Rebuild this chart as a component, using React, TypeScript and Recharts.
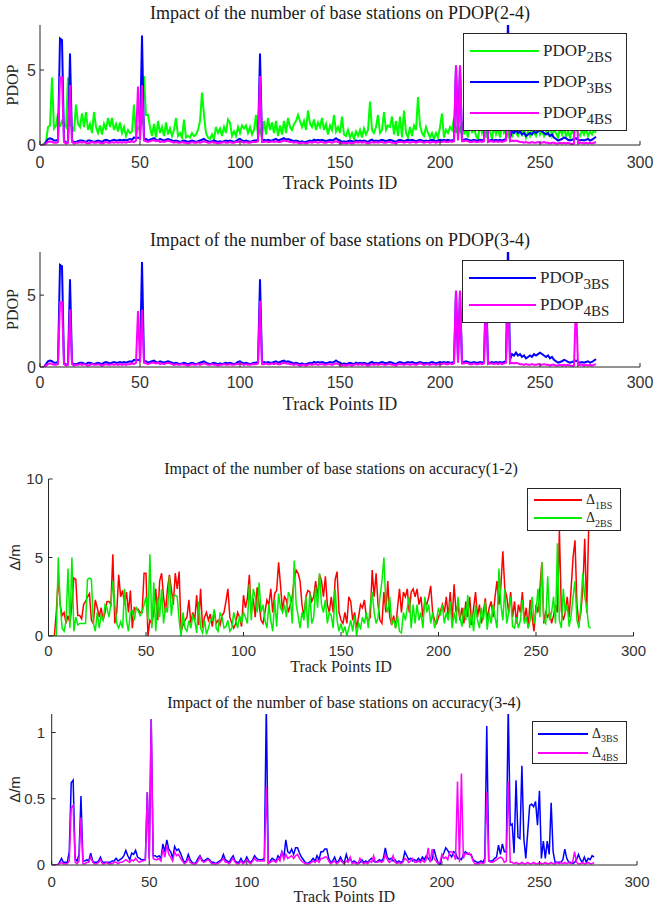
import React from "react"
import { LineChart, Line, XAxis, YAxis, Legend } from "recharts"

// track point IDs 1..278 (x categories)
const trackIds = Array.from({ length: 278 }, (_, i) => i + 1)
const xTicks = [0, 50, 100, 150, 200, 250, 300]
const pdopTicks = [0, 5]
const acc12Ticks = [0, 5, 10]
const acc34Ticks = [0, 0.5, 1]

// PDOP with 2 base stations (green)
const pdop2BS = [
  0, 0.1, 0.2, 1.2, 1.3, 4.5, 1.1, 1.3, 2.1, 1.2,
  1.6, 1.4, 1.2, 4.5, 1.3, 1.2, 0.9, 2.7, 1.4, 1.2,
  2.1, 1.2, 2.2, 1.0, 1.4, 0.8, 2.2, 1.2, 0.8, 1.3,
  0.7, 1.4, 1.0, 1.8, 1.2, 1.8, 1.0, 1.4, 0.9, 1.5,
  0.8, 1.2, 0.6, 1.0, 0.8, 0.9, 2.7, 0.6, 1.2, 1.0,
  1.5, 4.6, 2.0, 2.0, 1.2, 0.6, 1.4, 0.5, 1.6, 0.8,
  1.2, 0.6, 1.5, 0.7, 1.1, 0.6, 1.0, 1.8, 0.6, 0.8,
  0.5, 1.7, 0.5, 0.6, 0.5, 0.8, 0.6, 0.7, 1.0, 1.6,
  3.5, 2.0, 0.8, 0.5, 0.4, 0.7, 0.4, 1.2, 0.8, 1.1,
  0.6, 1.2, 0.8, 1.7, 1.5, 0.6, 0.9, 0.6, 1.2, 0.8,
  1.3, 1.1, 1.3, 0.8, 1.2, 0.7, 1.0, 2.0, 0.6, 1.0,
  0.5, 1.6, 0.7, 1.8, 1.0, 1.5, 0.8, 1.6, 0.6, 1.3,
  0.7, 1.6, 0.8, 1.8, 1.2, 1.0, 1.4, 1.6, 2.0, 1.6,
  1.2, 1.6, 1.0, 2.3, 1.4, 1.2, 1.7, 1.0, 1.5, 1.2,
  1.8, 1.0, 1.4, 0.7, 1.3, 1.0, 2.0, 0.9, 1.2, 0.8,
  1.9, 0.7, 0.6, 1.0, 0.5, 0.8, 0.4, 0.9, 0.6, 1.0,
  0.5, 1.1, 0.7, 1.0, 2.9, 1.0, 0.8, 1.2, 2.0, 0.8,
  1.0, 2.2, 1.0, 1.3, 1.2, 1.9, 0.7, 1.6, 0.6, 1.9,
  0.5, 2.3, 0.8, 0.5, 1.2, 0.6, 1.3, 1.0, 3.2, 1.3,
  0.8, 0.6, 1.2, 0.8, 0.5, 0.8, 0.4, 0.8, 0.5, 1.2,
  2.1, 0.5, 1.0, 0.8, 1.2, 1.0, 1.8, 0.8, 1.3, 0.9,
  1.5, 0.7, 1.1, 0.5, 1.6, 0.8, 1.2, 0.6, 0.4, 1.4,
  0.8, 1.2, 0.5, 1.5, 0.9, 0.4, 1.3, 0.7, 1.1, 0.5,
  1.4, 0.8, 1.0, 0.6, 1.2, 0.5, 1.3, 0.8, 0.6, 1.0,
  0.7, 1.2, 0.5, 0.9, 0.6, 1.1, 0.8, 0.6, 1.2, 0.7,
  1.0, 0.6, 0.9, 0.7, 1.3, 0.6, 1.0, 0.8, 0.5, 1.1,
  0.7, 1.2, 0.6, 0.9, 0.5, 1.0, 0.7, 1.3, 0.8, 0.6,
  1.0, 0.7, 1.1, 0.6, 0.9, 0.7, 1.0, 0.8,
]

// PDOP with 3 base stations (blue)
const pdop3BS = [
  0, 0, 0.2, 0.4, 0.45, 0.4, 0.3, 0.3, 0.35, 7.1,
  7.0, 0.3, 0.15, 0.2, 6.1, 0.3, 0.2, 0.2, 0.25, 0.3,
  0.3, 0.25, 0.2, 0.3, 0.3, 0.25, 0.2, 0.25, 0.3, 0.25,
  0.2, 0.3, 0.35, 0.3, 0.25, 0.3, 0.35, 0.3, 0.3, 0.35,
  0.3, 0.35, 0.3, 0.35, 0.4, 0.35, 0.5, 0.45, 0.5, 0.45,
  7.3, 0.4, 0.4, 0.3, 0.35, 0.4, 0.45, 0.35, 0.3, 0.4,
  0.35, 0.3, 0.35, 0.4, 0.35, 0.3, 0.25, 0.3, 0.25, 0.2,
  0.25, 0.3, 0.25, 0.2, 0.25, 0.3, 0.25, 0.2, 0.25, 0.3,
  0.35, 0.4, 0.3, 0.25, 0.2, 0.25, 0.3, 0.25, 0.2, 0.25,
  0.2, 0.25, 0.3, 0.25, 0.3, 0.25, 0.2, 0.25, 0.35, 0.4,
  0.3, 0.25, 0.3, 0.25, 0.2, 0.25, 0.3, 0.3, 0.35, 6.1,
  0.3, 0.35, 0.3, 0.35, 0.3, 0.3, 0.35, 0.4, 0.3, 0.35,
  0.4, 0.45, 0.35, 0.4, 0.35, 0.3, 0.25, 0.3, 0.25, 0.2,
  0.25, 0.2, 0.2, 0.25, 0.3, 0.25, 0.35, 0.3, 0.35, 0.3,
  0.35, 0.3, 0.25, 0.3, 0.35, 0.3, 0.35, 0.45, 0.35, 0.3,
  0.2, 0.25, 0.2, 0.25, 0.3, 0.25, 0.2, 0.3, 0.25, 0.3,
  0.25, 0.3, 0.25, 0.2, 0.3, 0.35, 0.25, 0.3, 0.25, 0.3,
  0.35, 0.3, 0.25, 0.3, 0.35, 0.3, 0.25, 0.2, 0.3, 0.35,
  0.3, 0.25, 0.3, 0.35, 0.3, 0.35, 0.3, 0.25, 0.3, 0.35,
  0.3, 0.25, 0.3, 0.25, 0.3, 0.35, 0.3, 0.25, 0.3, 0.35,
  0.3, 0.35, 0.3, 0.35, 0.3, 0.3, 0.35, 5.3, 0.4, 5.3,
  0.3, 0.35, 0.4, 0.35, 0.3, 0.3, 0.35, 0.3, 0.3, 0.35,
  0.3, 0.35, 6.0, 0.3, 0.3, 0.35, 0.3, 0.35, 0.3, 0.35,
  0.3, 0.35, 0.4, 8.6, 0.5, 0.9, 0.8, 1.0, 0.8, 0.9,
  0.7, 0.8, 0.6, 0.7, 0.8, 0.7, 0.9, 0.8, 0.9, 1.0,
  0.9, 0.8, 0.7, 0.8, 0.6, 0.7, 0.5, 0.4, 0.3, 0.35,
  0.4, 0.5, 0.45, 0.35, 0.3, 0.35, 0.4, 0.45, 0.35, 0.3,
  0.35, 0.3, 0.35, 0.4, 0.3, 0.35, 0.45, 0.55,
]

// PDOP with 4 base stations (magenta)
const pdop4BS = [
  0, 0, 0.1, 0.2, 0.25, 0.2, 0.15, 0.15, 0.2, 4.5,
  4.5, 0.2, 0.1, 0.15, 4.0, 0.2, 0.1, 0.15, 0.15, 0.2,
  0.15, 0.2, 0.15, 0.1, 0.15, 0.2, 0.15, 0.15, 0.2, 0.15,
  0.1, 0.15, 0.2, 0.15, 0.15, 0.2, 0.15, 0.2, 0.15, 0.2,
  0.15, 0.2, 0.15, 0.2, 0.2, 0.25, 0.2, 0.3, 3.9, 0.3,
  4.0, 0.3, 0.25, 0.2, 0.25, 0.3, 0.3, 0.25, 0.3, 0.2,
  0.25, 0.2, 0.25, 0.3, 0.25, 0.2, 0.15, 0.2, 0.15, 0.15,
  0.2, 0.15, 0.15, 0.1, 0.15, 0.2, 0.15, 0.15, 0.2, 0.15,
  0.2, 0.25, 0.2, 0.15, 0.15, 0.2, 0.15, 0.15, 0.1, 0.15,
  0.15, 0.2, 0.15, 0.15, 0.2, 0.15, 0.15, 0.2, 0.2, 0.25,
  0.2, 0.15, 0.2, 0.15, 0.15, 0.2, 0.2, 0.2, 0.25, 4.6,
  0.2, 0.2, 0.25, 0.2, 0.2, 0.25, 0.2, 0.25, 0.2, 0.2,
  0.25, 0.3, 0.25, 0.25, 0.2, 0.2, 0.15, 0.2, 0.15, 0.1,
  0.15, 0.15, 0.1, 0.15, 0.2, 0.15, 0.2, 0.2, 0.15, 0.2,
  0.2, 0.15, 0.15, 0.2, 0.2, 0.15, 0.2, 0.25, 0.2, 0.15,
  0.1, 0.15, 0.1, 0.15, 0.15, 0.1, 0.15, 0.2, 0.15, 0.2,
  0.15, 0.2, 0.15, 0.1, 0.15, 0.2, 0.15, 0.2, 0.15, 0.2,
  0.2, 0.15, 0.15, 0.2, 0.2, 0.15, 0.15, 0.1, 0.2, 0.2,
  0.2, 0.15, 0.2, 0.2, 0.15, 0.2, 0.2, 0.15, 0.2, 0.25,
  0.2, 0.15, 0.2, 0.2, 0.15, 0.2, 0.2, 0.15, 0.2, 0.2,
  0.2, 0.25, 0.2, 0.2, 0.25, 0.2, 0.25, 5.3, 0.3, 5.3,
  0.25, 0.25, 0.3, 0.25, 0.2, 0.2, 0.25, 0.2, 0.2, 0.25,
  0.2, 0.25, 5.0, 0.2, 0.25, 0.25, 0.2, 0.25, 0.2, 0.25,
  0.2, 0.25, 0.3, 5.0, 0.25, 0.3, 0.25, 0.3, 0.25, 0.2,
  0.2, 0.15, 0.2, 0.15, 0.15, 0.2, 0.15, 0.15, 0.2, 0.15,
  0.15, 0.2, 0.15, 0.15, 0.1, 0.15, 0.15, 0.1, 0.1, 0.15,
  0.1, 0.15, 0.1, 0.15, 0.1, 0.05, 0.1, 4.5, 0.1, 0.15,
  0.15, 0.1, 0.15, 0.1, 0.15, 0.1, 0.15, 0.2,
]

// positioning error with 1 base station (red)
const delta1BS = [
  0, 0, 0, 1.5, 3.7, 2.0, 1.3, 1.5, 0.8, 1.3,
  0.8, 2.0, 3.7, 3.6, 1.3, 1.3, 1.1, 2.0, 2.2, 2.5,
  2.7, 1.0, 0.8, 2.3, 1.8, 1.2, 1.8, 1.0, 1.5, 2.2,
  2.2, 2.0, 5.2, 0.8, 1.5, 3.9, 2.5, 2.9, 2.0, 2.8,
  1.5, 2.9, 0.5, 1.8, 1.7, 1.7, 1.5, 1.5, 4.0, 4.0,
  0, 1.0, 0.8, 1.5, 3.0, 1.0, 3.5, 4.0, 2.5, 1.5,
  3.0, 3.9, 3.0, 2.0, 4.0, 3.0, 4.1, 0.3, 0.7, 1.0,
  1.2, 2.3, 0.8, 1.5, 1.0, 2.6, 0.7, 3.0, 0.5, 1.2,
  1.5, 1.0, 1.4, 0.6, 1.6, 0.8, 1.0, 0.7, 1.3, 1.5,
  2.2, 3.0, 1.2, 0.8, 0.5, 0.8, 1.5, 1.2, 0.6, 2.6,
  1.8, 2.4, 3.9, 1.5, 2.4, 1.2, 3.1, 2.0, 1.0, 0.8,
  1.5, 2.3, 2.0, 3.0, 1.5, 2.7, 2.9, 4.7, 3.2, 1.6,
  2.5, 2.3, 1.5, 2.0, 2.5, 3.6, 4.2, 4.0, 3.5, 2.0,
  1.2, 2.5, 2.9, 2.8, 2.2, 2.5, 3.5, 2.5, 3.9, 3.5,
  2.5, 3.8, 2.0, 1.5, 2.5, 1.5, 3.6, 4.1, 1.5, 1.0,
  0.8, 1.5, 0.8, 2.5, 2.2, 1.0, 1.5, 0.5, 1.2, 2.0,
  1.8, 2.3, 1.2, 1.0, 1.2, 4.2, 2.5, 4.0, 2.0, 1.0,
  0.8, 2.8, 1.5, 3.5, 1.2, 0.7, 1.3, 0.5, 1.8, 3.0,
  1.5, 2.8, 2.5, 3.0, 1.5, 2.8, 3.0, 2.5, 3.0, 2.0,
  2.5, 1.2, 2.2, 2.0, 2.5, 3.2, 1.5, 1.0, 0.8, 1.2,
  1.6, 2.0, 1.5, 2.5, 1.2, 2.8, 1.0, 3.3, 1.5, 2.0,
  1.0, 1.8, 0.8, 2.2, 1.2, 2.5, 0.7, 1.8, 2.8, 1.2,
  2.0, 0.8, 1.5, 2.4, 1.0, 1.8, 2.2, 1.2, 2.5, 3.5,
  2.0, 3.2, 5.4, 3.0, 2.5, 1.5, 2.8, 1.2, 2.2, 0.8,
  2.0, 1.5, 2.8, 1.0, 1.8, 0.5, 2.3, 1.2, 0.3, 2.0,
  1.5, 3.0, 4.7, 0.8, 1.5, 1.2, 1.5, 0.8, 1.3, 2.0,
  1.5, 6.7, 1.6, 1.0, 1.5, 2.5, 1.2, 3.0, 5.0, 6.1,
  2.0, 0.8, 1.5, 3.0, 6.2, 1.5, 6.8, 6.9,
]

// positioning error with 2 base stations (green)
const delta2BS = [
  0, 0, 0, 0, 5.0, 2.0, 0.5, 0.3, 1.0, 4.3,
  0.5, 5.0, 0.3, 1.2, 0.7, 0.8, 0.8, 0.8, 0.8, 3.6,
  3.7, 3.6, 0.8, 0.3, 1.5, 0.5, 1.3, 1.0, 2.0, 1.8,
  1.2, 2.0, 3.5, 2.0, 0.8, 0.5, 0.9, 0.5, 3.0, 1.0,
  0.3, 1.5, 1.6, 1.0, 1.8, 1.6, 1.3, 1.5, 2.0, 2.5,
  1.0, 5.2, 0.5, 3.4, 0.3, 2.5, 1.2, 3.0, 0.8, 1.8,
  1.5, 3.8, 1.3, 2.5, 2.6, 2.5, 1.0, 0, 1.5, 0.5,
  0.3, 1.0, 0.5, 1.3, 1.0, 0.2, 2.2, 0.5, 0.2, 1.0,
  0.1, 0.5, 1.0, 1.0, 1.7, 0.5, 0.3, 1.5, 1.2, 0.5,
  0.6, 1.0, 0.3, 0.5, 1.5, 1.0, 0.5, 1.3, 0.8, 1.5,
  1.2, 0.8, 3.3, 1.0, 3.0, 2.5, 1.5, 3.4, 1.5, 2.0,
  1.0, 0.5, 2.0, 1.0, 0.3, 2.3, 0.6, 2.7, 1.8, 1.5,
  2.0, 1.2, 2.8, 2.5, 0.8, 4.8, 2.0, 1.3, 0.5, 1.5,
  1.0, 2.5, 0.5, 2.7, 0.8, 1.2, 3.1, 1.8, 4.0, 2.0,
  1.5, 2.3, 0.8, 1.5, 1.3, 0.5, 3.0, 1.0, 0.3, 0.8,
  0.2, 0.6, 0, 0.5, 1.0, 0.3, 1.3, 0, 0.8, 0.5,
  1.2, 0.8, 1.5, 0.5, 2.0, 2.8, 1.5, 0.8, 1.2, 2.5,
  3.5, 5.0, 2.0, 1.5, 2.5, 0.8, 1.0, 0.5, 1.3, 0.3,
  0.2, 1.5, 1.0, 1.8, 2.5, 0.5, 2.0, 0.8, 2.0, 1.0,
  1.5, 0.5, 2.5, 1.5, 2.0, 0.8, 1.5, 0.5, 1.0, 1.8,
  1.3, 2.0, 0.8, 1.5, 1.0, 2.2, 0.5, 1.5, 0.8, 2.5,
  1.2, 0.6, 1.8, 1.0, 2.6, 0.5, 1.5, 0.3, 2.0, 1.0,
  0.5, 1.8, 1.0, 2.2, 0.4, 1.5, 0.8, 2.0, 1.2, 0.5,
  4.3, 2.0, 1.0, 3.0, 0.8, 1.5, 2.5, 0.6, 0.5, 1.2,
  0.5, 1.0, 2.3, 0.8, 1.2, 0.5, 1.0, 2.5, 0.8, 1.5,
  3.0, 1.2, 4.7, 1.0, 0.8, 3.8, 1.0, 1.5, 2.5, 0.8,
  5.9, 1.0, 0.5, 3.0, 1.5, 2.0, 0.6, 1.3, 2.5, 3.5,
  1.0, 0.5, 2.0, 4.0, 2.5, 1.8, 0.6, 0.5,
]

// positioning error with 3 base stations (blue)
const delta3BS = [
  0, 0, 0, 0.02, 0.05, 0.02, 0.02, 0.02, 0.1, 0.62,
  0.64, 0.05, 0.03, 0.08, 0.52, 0.03, 0.03, 0.04, 0.03, 0.09,
  0.03, 0.02, 0.02, 0.03, 0.06, 0.02, 0.02, 0.02, 0.02, 0.02,
  0.03, 0.03, 0.05, 0.03, 0.04, 0.05, 0.07, 0.11, 0.07, 0.04,
  0.09, 0.08, 0.11, 0.06, 0.05, 0.04, 0.04, 0.04, 0.55, 0.05,
  1.1, 0.07, 0.07, 0.06, 0.07, 0.05, 0.16, 0.1, 0.19, 0.12,
  0.1, 0.05, 0.14, 0.11, 0.12, 0.09, 0.05, 0.02, 0.03, 0.08,
  0.04, 0.02, 0.01, 0.02, 0.05, 0.07, 0.04, 0.03, 0.04, 0.05,
  0.04, 0.02, 0.02, 0.01, 0.02, 0.03, 0.04, 0.08, 0.04, 0.03,
  0.02, 0.05, 0.07, 0.03, 0.02, 0.02, 0.05, 0.02, 0.03, 0.06,
  0.03, 0.02, 0.04, 0.07, 0.05, 0.04, 0.04, 0.04, 0.05, 1.2,
  0.02, 0.03, 0.05, 0.04, 0.03, 0.07, 0.05, 0.1, 0.06, 0.19,
  0.1, 0.09, 0.12, 0.08, 0.13, 0.13, 0.09, 0.06, 0.04, 0.02,
  0.01, 0.02, 0.03, 0.05, 0.03, 0.07, 0.04, 0.1, 0.1, 0.12,
  0.12, 0.05, 0.02, 0.03, 0.06, 0.02, 0.03, 0.06, 0.03, 0.02,
  0.08, 0.03, 0.05, 0.02, 0.03, 0.02, 0.01, 0.02, 0.04, 0.02,
  0.03, 0.02, 0.04, 0.05, 0.03, 0.02, 0.03, 0.04, 0.03, 0.05,
  0.13, 0.06, 0.04, 0.05, 0.03, 0.04, 0.02, 0.03, 0.02, 0.03,
  0.1, 0.07, 0.04, 0.05, 0.03, 0.04, 0.03, 0.05, 0.03, 0.06,
  0.04, 0.07, 0.05, 0.03, 0.04, 0.12, 0.06, 0.02, 0, 0.06,
  0.09, 0.13, 0.11, 0.08, 0.06, 0.1, 0.09, 0.05, 0.05, 0.04,
  0.08, 0.1, 0.09, 0.08, 0.08, 0.04, 0.03, 0.02, 0.02, 0.03,
  0.02, 0.05, 1.05, 0.03, 0.03, 0.03, 0.05, 0.06, 0.15, 0.08,
  0.16, 0.1, 0.1, 1.2, 0.3, 0.31, 0.09, 0.64, 0.21, 0.2,
  0.75, 0.2, 0.05, 0.25, 0.45, 0.46, 0.44, 0.48, 0.3, 0.56,
  0.05, 0.18, 0.05, 0.18, 0.08, 0.47, 0.1, 0.02, 0.02, 0.02,
  0.02, 0.04, 0.12, 0.05, 0.02, 0.02, 0.01, 0.02, 0.04, 0.08,
  0.04, 0.02, 0.06, 0.02, 0.05, 0.04, 0.07, 0.06,
]

// positioning error with 4 base stations (magenta)
const delta4BS = [
  0, 0, 0, 0.01, 0.02, 0.01, 0.01, 0.01, 0.03, 0.43,
  0.45, 0.02, 0.01, 0.03, 0.36, 0.01, 0.01, 0.02, 0.02, 0.06,
  0.02, 0.01, 0.01, 0.02, 0.04, 0.01, 0.01, 0.02, 0.01, 0.01,
  0.01, 0.02, 0.02, 0.01, 0.02, 0.02, 0.03, 0.04, 0.03, 0.02,
  0.04, 0.03, 0.05, 0.03, 0.02, 0.03, 0.03, 0.04, 0.55, 0.03,
  1.1, 0.05, 0.04, 0.04, 0.05, 0.03, 0.12, 0.06, 0.15, 0.08,
  0.06, 0.03, 0.1, 0.07, 0.08, 0.05, 0.03, 0.01, 0.02, 0.05,
  0.02, 0.01, 0.01, 0.01, 0.03, 0.06, 0.03, 0.02, 0.03, 0.04,
  0.03, 0.01, 0.01, 0.01, 0.01, 0.02, 0.03, 0.05, 0.02, 0.02,
  0.01, 0.03, 0.05, 0.02, 0.01, 0.01, 0.03, 0.01, 0.02, 0.04,
  0.02, 0.01, 0.03, 0.05, 0.03, 0.03, 0.03, 0.03, 0.03, 0.59,
  0.01, 0.02, 0.03, 0.03, 0.02, 0.05, 0.03, 0.1, 0.04, 0.08,
  0.05, 0.06, 0.07, 0.05, 0.07, 0.08, 0.05, 0.03, 0.02, 0.01,
  0.01, 0.01, 0.02, 0.03, 0.02, 0.04, 0.02, 0.05, 0.05, 0.06,
  0.06, 0.03, 0.01, 0.02, 0.03, 0.01, 0.02, 0.04, 0.02, 0.01,
  0.03, 0.02, 0.06, 0.01, 0.02, 0.01, 0.01, 0.05, 0.02, 0.01,
  0.02, 0.01, 0.03, 0.02, 0.07, 0.02, 0.02, 0.03, 0.02, 0.03,
  0.08, 0.04, 0.02, 0.03, 0.07, 0.02, 0.01, 0.02, 0.01, 0.02,
  0.05, 0.04, 0.02, 0.03, 0.05, 0.02, 0.02, 0.03, 0.02, 0.04,
  0.02, 0.04, 0.13, 0.02, 0.12, 0.05, 0.03, 0.01, 0.02, 0.08,
  0.05, 0.06, 0.04, 0.1, 0.1, 0.08, 0.04, 0.63, 0.02, 0.69,
  0.05, 0.09, 0.08, 0.09, 0.07, 0.03, 0.01, 0.01, 0.01, 0.02,
  0.01, 0.02, 0.55, 0.03, 0.02, 0.02, 0.03, 0.04, 0.05, 0.06,
  0.05, 0.02, 0.03, 0.63, 0.02, 0.02, 0.01, 0.02, 0.01, 0.01,
  0.02, 0.01, 0.01, 0.02, 0.01, 0.01, 0.02, 0.01, 0.01, 0.02,
  0.01, 0.01, 0.02, 0.01, 0.01, 0.02, 0.01, 0.01, 0.02, 0.01,
  0.02, 0.01, 0.02, 0.01, 0.02, 0.01, 0.02, 0.1, 0.02, 0.01,
  0.01, 0.02, 0.01, 0.01, 0.02, 0.01, 0.01, 0.02,
]

const pdopRows = trackIds.map((id, i) => ({ id, p2: pdop2BS[i], p3: pdop3BS[i], p4: pdop4BS[i] }))
const accRows = trackIds.map((id, i) => ({
  id,
  d1: delta1BS[i],
  d2: delta2BS[i],
  d3: delta3BS[i],
  d4: delta4BS[i],
}))

const serif = '"Liberation Serif", "Times New Roman", serif'
const sans = '"Liberation Sans", Arial, sans-serif'
const ink = "#262626"
const tickInk = "#333333"

type LegendRow = { color: string; name: string; sub: string }

function BoxLegend({
  rows,
  rowH,
  padTop,
  lineFrom,
  lineTo,
  fontSize,
  subSize,
}: {
  rows: LegendRow[]
  rowH: number
  padTop: number
  lineFrom: number
  lineTo: number
  fontSize: number
  subSize: number
}) {
  return (
    <div
      style={{
        width: "100%",
        height: "100%",
        boxSizing: "border-box",
        border: `1px solid ${ink}`,
        background: "#fff",
        paddingTop: padTop,
      }}
    >
      {rows.map((r) => (
        <div key={r.sub} style={{ display: "flex", alignItems: "center", height: rowH }}>
          <svg width={lineTo + 4} height={4} style={{ flex: "none" }}>
            <line x1={lineFrom} x2={lineTo} y1={2} y2={2} stroke={r.color} strokeWidth={2} />
          </svg>
          <span style={{ fontFamily: serif, fontSize, color: ink, lineHeight: 1, whiteSpace: "nowrap" }}>
            {r.name}
            <span style={{ fontSize: subSize, position: "relative", top: fontSize * 0.35 }}>{r.sub}</span>
          </span>
        </div>
      ))}
    </div>
  )
}

const titleStyle = (top: number, center: number, size: number): React.CSSProperties => ({
  position: "absolute",
  top,
  left: center - 300,
  width: 600,
  textAlign: "center",
  fontFamily: serif,
  fontSize: size,
  lineHeight: `${size}px`,
  color: "#1a1a1a",
  whiteSpace: "nowrap",
})

export default function App() {
  return (
    <div style={{ position: "absolute", left: 0, top: 0, width: 656, height: 906, background: "#fff", overflow: "hidden" }}>
      <div style={titleStyle(4, 340, 18)}>Impact of the number of base stations on PDOP(2-4)</div>
      <div style={titleStyle(231, 340, 18)}>Impact of the number of base stations on PDOP(3-4)</div>
      <div style={titleStyle(461, 341, 16)}>Impact of the number of base stations on accuracy(1-2)</div>
      <div style={titleStyle(695, 344, 16)}>Impact of the number of base stations on accuracy(3-4)</div>

      {/* PDOP 2-4 */}
      <div style={{ position: "absolute", left: 0, top: 0 }}>
        <LineChart width={656} height={200} data={pdopRows} margin={{ top: 25, right: 16, bottom: 11, left: 7 }}>
          <XAxis
            dataKey="id"
            type="number"
            domain={[0, 300]}
            ticks={xTicks}
            interval={0}
            height={44}
            tickSize={-4}
            tickMargin={16}
            stroke={ink}
            tick={{ fill: tickInk, fontSize: 16, fontFamily: sans }}
            label={{ value: "Track Points ID", position: "insideBottom", offset: 0, fill: ink, fontSize: 18, fontFamily: serif }}
          />
          <YAxis
            domain={[0, 8]}
            ticks={pdopTicks}
            allowDataOverflow
            interval={0}
            width={33}
            tickSize={-4}
            tickMargin={8}
            stroke={ink}
            tick={{ fill: tickInk, fontSize: 16, fontFamily: sans }}
            label={{ value: "PDOP", angle: -90, position: "insideLeft", offset: 5, fill: ink, fontSize: 16, fontFamily: serif, style: { textAnchor: "middle" } }}
          />
          <Line type="linear" dataKey="p2" stroke="#00ff00" strokeWidth={2} dot={false} activeDot={false} isAnimationActive={false} />
          <Line type="linear" dataKey="p3" stroke="#0000ff" strokeWidth={2} dot={false} activeDot={false} isAnimationActive={false} />
          <Line type="linear" dataKey="p4" stroke="#ff00ff" strokeWidth={2} dot={false} activeDot={false} isAnimationActive={false} />
          <Legend
            verticalAlign="middle"
            align="center"
            wrapperStyle={{ left: 463, top: 33, width: 164, height: 98 }}
            content={() => (
              <BoxLegend
                rows={[
                  { color: "#00ff00", name: "PDOP", sub: "2BS" },
                  { color: "#0000ff", name: "PDOP", sub: "3BS" },
                  { color: "#ff00ff", name: "PDOP", sub: "4BS" },
                ]}
                rowH={31}
                padTop={1}
                lineFrom={6}
                lineTo={75}
                fontSize={17}
                subSize={15}
              />
            )}
          />
        </LineChart>
      </div>

      {/* PDOP 3-4 */}
      <div style={{ position: "absolute", left: 0, top: 200 }}>
        <LineChart width={656} height={230} data={pdopRows} margin={{ top: 52, right: 16, bottom: 20, left: 7 }}>
          <XAxis
            dataKey="id"
            type="number"
            domain={[0, 300]}
            ticks={xTicks}
            interval={0}
            height={43}
            tickSize={-4}
            tickMargin={14}
            stroke={ink}
            tick={{ fill: tickInk, fontSize: 16, fontFamily: sans }}
            label={{ value: "Track Points ID", position: "insideBottom", offset: 0, fill: ink, fontSize: 18, fontFamily: serif }}
          />
          <XAxis xAxisId="top" orientation="top" dataKey="id" type="number" domain={[0, 300]} ticks={xTicks} interval={0} height={0} tickSize={-4} tick={false} stroke={ink} />
          <YAxis
            domain={[0, 8]}
            ticks={pdopTicks}
            allowDataOverflow
            interval={0}
            width={33}
            tickSize={-4}
            tickMargin={8}
            stroke={ink}
            tick={{ fill: tickInk, fontSize: 16, fontFamily: sans }}
            label={{ value: "PDOP", angle: -90, position: "insideLeft", offset: 5, fill: ink, fontSize: 16, fontFamily: serif, style: { textAnchor: "middle" } }}
          />
          <YAxis yAxisId="right" orientation="right" domain={[0, 8]} ticks={pdopTicks} allowDataOverflow interval={0} width={0} tickSize={-4} tick={false} stroke={ink} />
          <Line type="linear" dataKey="p3" stroke="#0000ff" strokeWidth={2} dot={false} activeDot={false} isAnimationActive={false} />
          <Line type="linear" dataKey="p4" stroke="#ff00ff" strokeWidth={2} dot={false} activeDot={false} isAnimationActive={false} />
          <Legend
            verticalAlign="middle"
            align="center"
            wrapperStyle={{ left: 462, top: 60, width: 162, height: 63 }}
            content={() => (
              <BoxLegend
                rows={[
                  { color: "#0000ff", name: "PDOP", sub: "3BS" },
                  { color: "#ff00ff", name: "PDOP", sub: "4BS" },
                ]}
                rowH={27}
                padTop={3}
                lineFrom={6}
                lineTo={73}
                fontSize={17}
                subSize={15}
              />
            )}
          />
        </LineChart>
      </div>

      {/* accuracy 1-2 */}
      <div style={{ position: "absolute", left: 0, top: 430 }}>
        <LineChart width={656} height={250} data={accRows} margin={{ top: 49, right: 22.5, bottom: 8, left: 10 }}>
          <XAxis
            dataKey="id"
            type="number"
            domain={[0, 300]}
            ticks={xTicks}
            interval={0}
            height={36}
            tickSize={-4}
            tickMargin={13}
            stroke={ink}
            tick={{ fill: tickInk, fontSize: 15, fontFamily: sans }}
            label={{ value: "Track Points ID", position: "insideBottom", offset: 0, fill: ink, fontSize: 16, fontFamily: serif }}
          />
          <XAxis xAxisId="top" orientation="top" dataKey="id" type="number" domain={[0, 300]} ticks={xTicks} interval={0} height={0} tickSize={-4} tick={false} stroke={ink} />
          <YAxis
            domain={[0, 10]}
            ticks={acc12Ticks}
            allowDataOverflow
            interval={0}
            width={38.5}
            tickSize={-4}
            tickMargin={9.5}
            stroke={ink}
            tick={{ fill: tickInk, fontSize: 15, fontFamily: sans }}
            label={{ value: "Δ/m", angle: -90, position: "insideLeft", offset: 5, fill: ink, fontSize: 15, fontFamily: sans, style: { textAnchor: "middle" } }}
          />
          <YAxis yAxisId="right" orientation="right" domain={[0, 10]} ticks={acc12Ticks} allowDataOverflow interval={0} width={0} tickSize={-4} tick={false} stroke={ink} />
          <Line type="linear" dataKey="d1" stroke="#ff0000" strokeWidth={1.5} dot={false} activeDot={false} isAnimationActive={false} />
          <Line type="linear" dataKey="d2" stroke="#00ee00" strokeWidth={1.5} dot={false} activeDot={false} isAnimationActive={false} />
          <Legend
            verticalAlign="middle"
            align="center"
            wrapperStyle={{ left: 527, top: 58, width: 94, height: 43 }}
            content={() => (
              <BoxLegend
                rows={[
                  { color: "#ff0000", name: "Δ", sub: "1BS" },
                  { color: "#00ee00", name: "Δ", sub: "2BS" },
                ]}
                rowH={18}
                padTop={2}
                lineFrom={6}
                lineTo={54}
                fontSize={14}
                subSize={10}
              />
            )}
          />
        </LineChart>
      </div>

      {/* accuracy 3-4 */}
      <div style={{ position: "absolute", left: 0, top: 680 }}>
        <LineChart width={656} height={226} data={accRows} margin={{ top: 34, right: 19, bottom: 4, left: 10 }}>
          <XAxis
            dataKey="id"
            type="number"
            domain={[0, 300]}
            ticks={xTicks}
            interval={0}
            height={37}
            tickSize={-4}
            tickMargin={15}
            stroke={ink}
            tick={{ fill: tickInk, fontSize: 15, fontFamily: sans }}
            label={{ value: "Track Points ID", position: "insideBottom", offset: 0, fill: ink, fontSize: 16, fontFamily: serif }}
          />
          <XAxis xAxisId="top" orientation="top" dataKey="id" type="number" domain={[0, 300]} ticks={xTicks} interval={0} height={0} tickSize={-4} tick={false} stroke={ink} />
          <YAxis
            domain={[0, 1.14]}
            ticks={acc34Ticks}
            allowDataOverflow
            interval={0}
            width={41.7}
            tickSize={-4}
            tickMargin={10.7}
            stroke={ink}
            tick={{ fill: tickInk, fontSize: 15, fontFamily: sans }}
            label={{ value: "Δ/m", angle: -90, position: "insideLeft", offset: 5, fill: ink, fontSize: 15, fontFamily: sans, style: { textAnchor: "middle" } }}
          />
          <YAxis yAxisId="right" orientation="right" domain={[0, 1.14]} ticks={acc34Ticks} allowDataOverflow interval={0} width={0} tickSize={-4} tick={false} stroke={ink} />
          <Line type="linear" dataKey="d3" stroke="#0000ff" strokeWidth={1.5} dot={false} activeDot={false} isAnimationActive={false} />
          <Line type="linear" dataKey="d4" stroke="#ff00ff" strokeWidth={1.5} dot={false} activeDot={false} isAnimationActive={false} />
          <Legend
            verticalAlign="middle"
            align="center"
            wrapperStyle={{ left: 532, top: 41, width: 95, height: 43 }}
            content={() => (
              <BoxLegend
                rows={[
                  { color: "#0000ff", name: "Δ", sub: "3BS" },
                  { color: "#ff00ff", name: "Δ", sub: "4BS" },
                ]}
                rowH={19}
                padTop={2}
                lineFrom={5}
                lineTo={55}
                fontSize={14}
                subSize={10}
              />
            )}
          />
        </LineChart>
      </div>
    </div>
  )
}
